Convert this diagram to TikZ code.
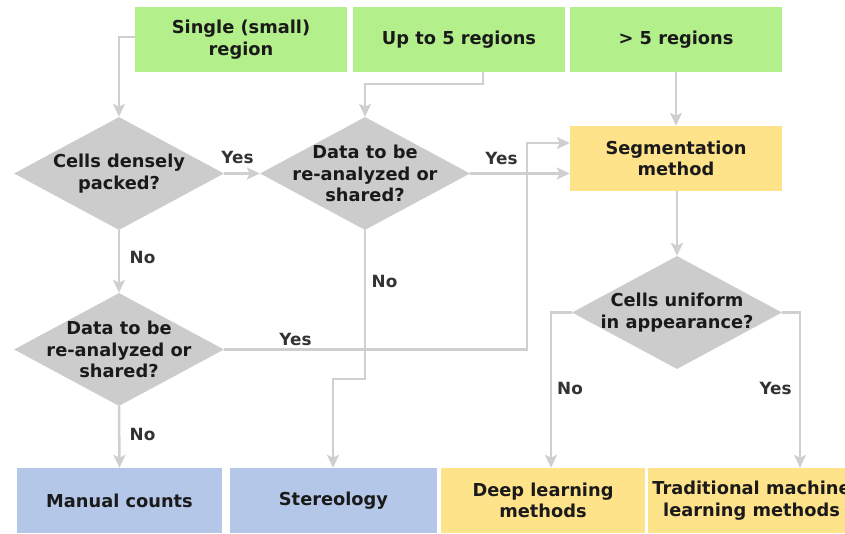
\documentclass[tikz,border=0pt]{standalone}
\usepackage{fontspec}
\setmainfont{DejaVu Sans}
\usetikzlibrary{arrows.meta,shapes.geometric}
\definecolor{gfill}{HTML}{B3EF8B}
\definecolor{yfill}{HTML}{FFE38B}
\definecolor{bfill}{HTML}{B4C7E8}
\definecolor{dfill}{HTML}{CCCCCC}
\definecolor{lgray}{HTML}{CFCFCF}
\definecolor{txt}{HTML}{1A1A1A}
\definecolor{lbltxt}{HTML}{333333}
\begin{document}
\begin{tikzpicture}[x=1pt,y=-1pt,
  box/.style={rectangle,minimum width=212pt,minimum height=65pt,inner sep=0pt,
    font=\bfseries\fontsize{17.8}{21.5}\selectfont,text=txt,align=center},
  dia/.style={diamond,fill=dfill,minimum width=210pt,minimum height=113pt,inner sep=0pt},
  dtxt/.style={inner sep=0pt,font=\bfseries\fontsize{17.8}{21.5}\selectfont,text=txt,align=center},
  lbl/.style={inner sep=0pt,font=\bfseries\fontsize{16.8}{20}\selectfont,text=lbltxt},
  arr/.style={draw=lgray,line width=2.5pt,-{Stealth[length=13pt,width=12pt,inset=3pt]}}
]
\useasboundingbox (0,0) rectangle (845,533);
% top boxes
\node[box,fill=gfill] (b1) at (241,39.5) {Single (small)\\region};
\node[box,fill=gfill] (b2) at (459,39.5) {Up to 5 regions};
\node[box,fill=gfill] (b3) at (676,39.5) {> 5 regions};
% segmentation
\node[box,fill=yfill] (seg) at (676,158.5) {Segmentation\\method};
% diamonds
\node[dia] (d1) at (119,173.5) {};
\node[dtxt] (t1) at (d1) {Cells densely\\packed?};
\node[dia] (d2) at (365,173.5) {};
\node[dtxt] (t2) at (d2) {Data to be\\re-analyzed or\\shared?};
\node[dia] (d3) at (119,349.5) {};
\node[dtxt] (t3) at (d3) {Data to be\\re-analyzed or\\shared?};
\node[dia] (d4) at (677,312.5) {};
\node[dtxt] (t4) at (d4) {Cells uniform\\in appearance?};
% bottom boxes
\node[box,fill=bfill,minimum width=205pt] (man) at (119.5,500.5) {Manual counts};
\node[box,fill=bfill,minimum width=207pt] (ste) at (333.5,500.5) {Stereology};
\node[box,fill=yfill,minimum width=204pt] (deep) at (543,500.5) {Deep learning\\methods};
\node[box,fill=yfill,minimum width=207pt] (trad) at (751.5,500.5) {Traditional machine\\learning methods};
% coordinates
\coordinate (c2) at ([xshift=24pt]b2.south);
\coordinate (c6) at (527,143);
\coordinate (c9) at (333,379);
\coordinate (c11) at (551,312.5);
\coordinate (c12) at (800,312.5);
% connectors
\draw[arr] ([yshift=2.5pt]b1.west) -| (d1.north);
\draw[arr] (c2) -- ++(0,12) -| (d2.north);
\draw[arr] (b3.south) -- (b3.south |- seg.north);
\draw[arr] (d1.east) -- (d2.west);
\draw[arr] (d2.east) -- (d2.east -| seg.west);
\draw[arr] (d3.east) -| (c6) -- (c6 -| seg.west);
\draw[arr] (d1.south) -- (d3.north);
\draw[arr] (d3.south) -- (man.north);
\draw[arr] (d2.south) |- (c9) -- (c9 |- ste.north);
\draw[arr] (d4.north |- seg.south) -- (d4.north);
\draw[arr] (d4.west) -- (c11) -- (c11 |- deep.north);
\draw[arr] (d4.east) -- (c12) -- (c12 |- trad.north);
% labels
\node[lbl] (l1) at (237.5,157) {Yes};
\node[lbl] (l2) at (501.5,158.5) {Yes};
\node[lbl] (l3) at (142.5,257) {No};
\node[lbl] (l4) at (295.5,339) {Yes};
\node[lbl] (l5) at (384.5,281) {No};
\node[lbl] (l6) at (142.5,434) {No};
\node[lbl] (l7) at (570,388.5) {No};
\node[lbl] (l8) at (775.5,388.5) {Yes};
\end{tikzpicture}
\end{document}
